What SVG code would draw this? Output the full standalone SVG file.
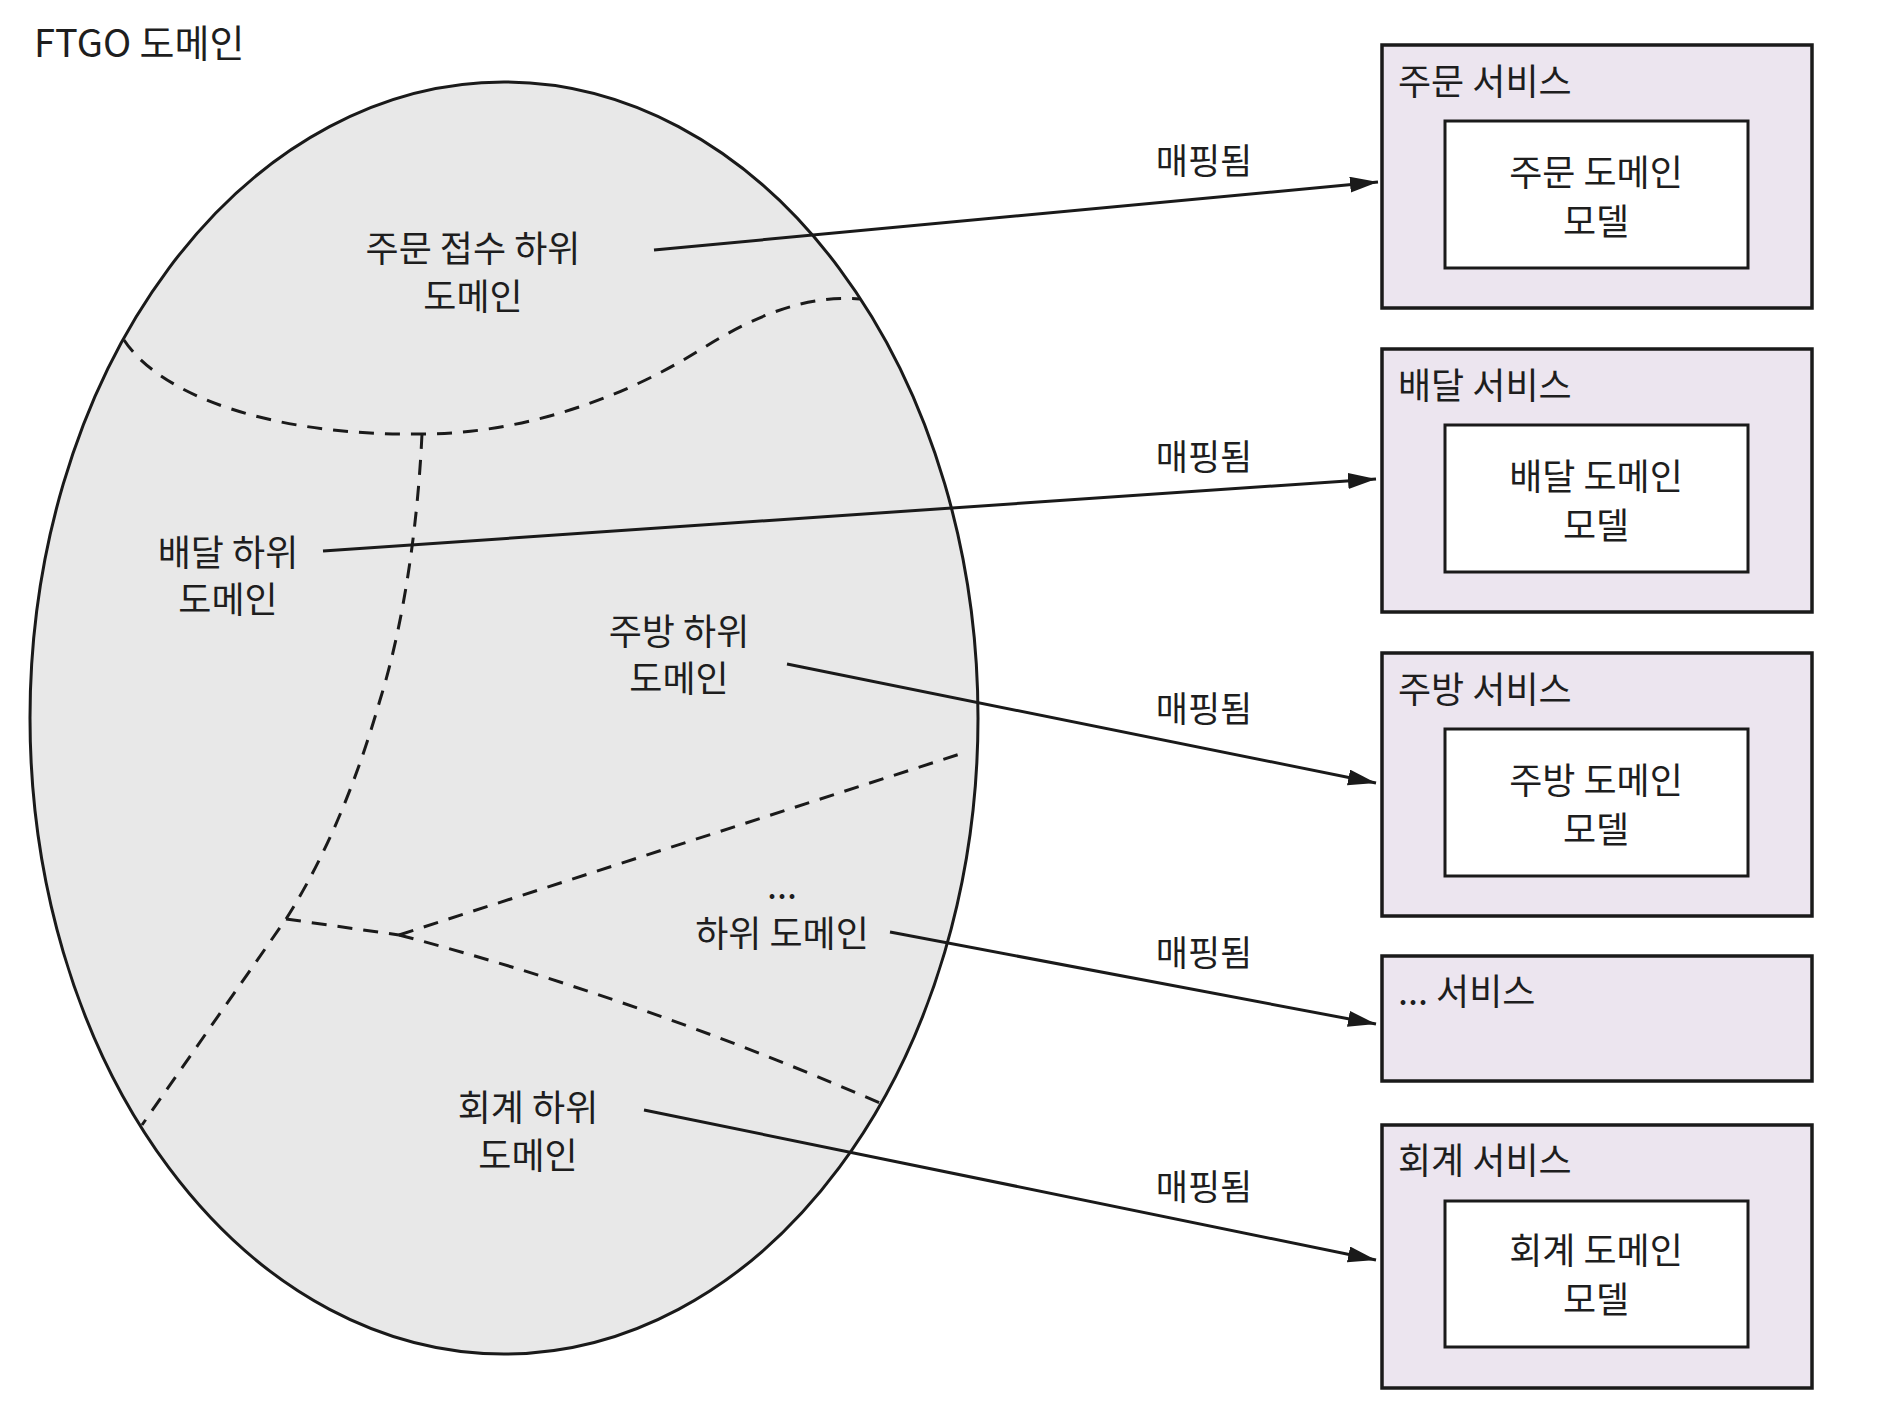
<svg xmlns="http://www.w3.org/2000/svg" width="1882" height="1412" viewBox="0 0 1882 1412">
<defs>
<style>
text{font-family:"Noto Sans CJK KR","Liberation Sans",sans-serif;fill:#1e1e1e}
.lbl{font-size:36px;text-anchor:middle}
.map{font-size:35px;text-anchor:middle}
.svc{font-size:36px}
.outer{fill:#ece5ef;stroke:#1a1a1a;stroke-width:3.5}
.inner{fill:#ffffff;stroke:#1a1a1a;stroke-width:3}
.dash{fill:none;stroke:#1a1a1a;stroke-width:3;stroke-dasharray:15 11}
.arrow{fill:none;stroke:#1a1a1a;stroke-width:3;marker-end:url(#ah)}
</style>
<marker id="ah" markerUnits="userSpaceOnUse" markerWidth="30" markerHeight="18" refX="28" refY="8" orient="auto">
<path d="M0,0 L28,8 L0,16 z" fill="#1a1a1a"/>
</marker>
</defs>
<rect width="1882" height="1412" fill="#ffffff"/>

<g id="ftgo-domain">
<text x="34" y="57" style="font-size:38px">FTGO 도메인</text>
<ellipse cx="504" cy="718" rx="474" ry="636" fill="#e8e8e8" stroke="#1a1a1a" stroke-width="3"/>
</g>

<g id="subdomain-boundaries">
<path class="dash" d="M124,340 C160,395 270,436 421,434 C520,434 620,400 700,350 C760,312 810,295 860,299"/>
<path class="dash" d="M422,434 C418,520 405,620 380,700 C360,770 330,850 286,919 L142,1125"/>
<path class="dash" d="M286,919 L399,935"/>
<path class="dash" d="M399,935 L963,753"/>
<path class="dash" d="M399,935 Q632,996 880,1103"/>
</g>

<g id="sub-order">
<text class="lbl" x="473" y="262">주문 접수 하위</text>
<text class="lbl" x="473" y="310">도메인</text>
</g>
<g id="sub-delivery">
<text class="lbl" x="228" y="566">배달 하위</text>
<text class="lbl" x="228" y="613">도메인</text>
</g>
<g id="sub-kitchen">
<text class="lbl" x="679" y="645">주방 하위</text>
<text class="lbl" x="679" y="692">도메인</text>
</g>
<g id="sub-etc">
<text class="lbl" x="782" y="899">...</text>
<text class="lbl" x="782" y="947">하위 도메인</text>
</g>
<g id="sub-accounting">
<text class="lbl" x="528" y="1121">회계 하위</text>
<text class="lbl" x="528" y="1169">도메인</text>
</g>

<g id="svc-order">
<rect class="outer" x="1382" y="45" width="430" height="263"/>
<text class="svc" x="1398" y="95">주문 서비스</text>
<rect class="inner" x="1445" y="121" width="303" height="147"/>
<text class="lbl" x="1596" y="186">주문 도메인</text>
<text class="lbl" x="1596" y="235">모델</text>
</g>
<g id="svc-delivery">
<rect class="outer" x="1382" y="349" width="430" height="263"/>
<text class="svc" x="1398" y="399">배달 서비스</text>
<rect class="inner" x="1445" y="425" width="303" height="147"/>
<text class="lbl" x="1596" y="490">배달 도메인</text>
<text class="lbl" x="1596" y="539">모델</text>
</g>
<g id="svc-kitchen">
<rect class="outer" x="1382" y="653" width="430" height="263"/>
<text class="svc" x="1398" y="703">주방 서비스</text>
<rect class="inner" x="1445" y="729" width="303" height="147"/>
<text class="lbl" x="1596" y="794">주방 도메인</text>
<text class="lbl" x="1596" y="843">모델</text>
</g>
<g id="svc-etc">
<rect class="outer" x="1382" y="956" width="430" height="125"/>
<text class="svc" x="1398" y="1005">... 서비스</text>
</g>
<g id="svc-accounting">
<rect class="outer" x="1382" y="1125" width="430" height="263"/>
<text class="svc" x="1398" y="1174">회계 서비스</text>
<rect class="inner" x="1445" y="1201" width="303" height="146"/>
<text class="lbl" x="1596" y="1264">회계 도메인</text>
<text class="lbl" x="1596" y="1313">모델</text>
</g>

<g id="connectors">
<line class="arrow" x1="654" y1="250" x2="1378" y2="182"/>
<line class="arrow" x1="323" y1="551" x2="1376" y2="479"/>
<line class="arrow" x1="787" y1="664" x2="1376" y2="783"/>
<line class="arrow" x1="890" y1="932" x2="1376" y2="1024"/>
<line class="arrow" x1="644" y1="1110" x2="1376" y2="1260"/>
<text class="map" x="1204" y="174">매핑됨</text>
<text class="map" x="1204" y="470">매핑됨</text>
<text class="map" x="1204" y="722">매핑됨</text>
<text class="map" x="1204" y="966">매핑됨</text>
<text class="map" x="1204" y="1200">매핑됨</text>
</g>
</svg>
